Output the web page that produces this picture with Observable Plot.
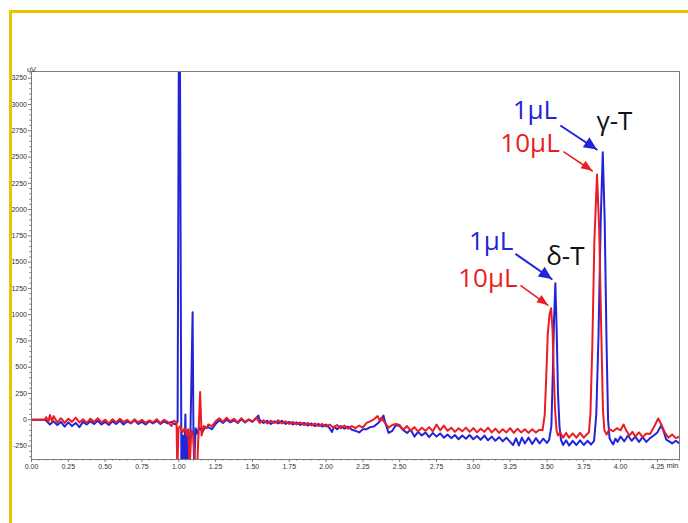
<!DOCTYPE html>
<html>
<head>
<meta charset="utf-8">
<script src="https://cdn.jsdelivr.net/npm/d3@7"></script>
<script src="https://cdn.jsdelivr.net/npm/@observablehq/plot@0.6"></script>
<style>
  html, body { margin: 0; padding: 0; background: #fff; }
  #wrap { position: relative; width: 688px; height: 523px; overflow: hidden; }
  #border { position: absolute; left: 9px; top: 10px; width: 720px; height: 600px;
            border-top: 3.5px solid #e9c400; border-left: 3.5px solid #e9c400; pointer-events: none; }
</style>
</head>
<body>
<div id="wrap"><div id="chart"></div><div id="border"></div></div>
<script>
// ---- data (time in min, signal in uV) ----
const blueTrace = [
  [0,0],[0.05,0],[0.09,0],
  [0.100,-10],[0.125,-45],[0.150,-15],[0.175,-50],[0.200,-20],[0.225,-65],[0.250,-25],[0.275,-60],
  [0.300,-30],[0.325,-70],[0.350,-20],[0.375,-45],[0.400,-15],[0.425,-40],[0.450,-10],[0.475,-45],
  [0.500,-20],[0.525,-50],[0.550,-15],[0.575,-40],[0.600,-10],[0.625,-45],[0.650,-15],[0.675,-35],
  [0.700,-5],[0.725,-40],[0.750,-20],[0.775,-45],[0.800,-15],[0.825,-35],[0.850,-10],[0.875,-40],
  [0.900,-15],[0.925,-35],[0.950,-20],[0.975,-45],
  [0.992,-20],[1.004,5000],[1.018,-500],[1.028,-150],[1.035,-500],[1.045,50],[1.052,-500],[1.062,-100],
  [1.070,-450],[1.080,-60],[1.094,1024],[1.100,-200],[1.105,-420],[1.115,-80],[1.125,-130],[1.140,-70],
  [1.160,-115],[1.175,-80],
  [1.200,-70],[1.225,-90],[1.250,-40],[1.275,-5],[1.300,-30],[1.325,0],[1.350,-25],[1.375,-5],
  [1.400,-30],[1.425,5],[1.450,-25],[1.475,0],[1.500,-20],[1.525,15],[1.540,40],[1.550,-5],
  [1.575,-30],[1.600,-10],[1.625,-40],[1.650,-15],[1.675,-35],[1.700,-10],[1.725,-40],[1.750,-20],
  [1.775,-45],[1.800,-25],[1.825,-50],[1.850,-30],[1.875,-55],[1.900,-35],[1.925,-60],[1.950,-40],
  [1.975,-65],[2.000,-45],[2.025,-80],[2.040,-115],[2.055,-65],[2.075,-90],[2.100,-60],[2.125,-85],
  [2.150,-65],[2.175,-95],[2.200,-105],[2.225,-120],[2.250,-90],[2.275,-90],[2.300,-70],[2.325,-65],
  [2.350,-35],[2.375,0],[2.390,40],[2.400,-20],[2.425,-125],[2.450,-105],[2.475,-50],[2.500,-60],
  [2.525,-100],[2.550,-125],[2.575,-95],[2.600,-160],[2.625,-115],[2.650,-150],[2.675,-120],[2.700,-165],
  [2.725,-125],[2.750,-160],[2.775,-130],[2.800,-170],[2.825,-140],[2.850,-175],[2.875,-145],[2.900,-185],
  [2.925,-150],[2.950,-180],[2.975,-145],[3.000,-185],[3.025,-155],[3.050,-190],[3.075,-150],[3.100,-195],
  [3.125,-160],[3.150,-200],[3.175,-165],[3.200,-205],[3.225,-170],[3.250,-210],[3.270,-240],[3.290,-175],
  [3.310,-245],[3.330,-170],[3.350,-225],[3.375,-170],[3.400,-230],[3.425,-175],[3.450,-225],[3.475,-180],
  [3.500,-220],[3.515,-190],[3.530,-60],[3.540,450],[3.548,950],[3.557,1300],[3.566,850],[3.575,250],
  [3.585,-60],[3.595,-190],[3.610,-240],[3.630,-195],[3.650,-245],[3.675,-200],[3.700,-240],[3.725,-195],
  [3.750,-240],[3.775,-200],[3.800,-235],[3.820,-200],[3.835,50],[3.850,800],[3.865,1900],[3.879,2546],
  [3.892,1900],[3.905,700],[3.915,0],[3.925,-175],[3.940,-215],[3.950,-235],[3.965,-180],[3.980,-210],
  [4.000,-160],[4.025,-205],[4.050,-150],[4.075,-200],[4.100,-160],[4.125,-210],[4.150,-165],[4.175,-210],
  [4.200,-175],[4.225,-150],[4.250,-120],[4.275,-55],[4.290,-100],[4.310,-190],[4.330,-205],[4.350,-225],
  [4.375,-200],[4.400,-225]
];

const redTrace = [
  [0,0],[0.05,0],[0.09,0],
  [0.100,25],[0.115,-20],[0.125,45],[0.140,-15],[0.150,35],[0.175,-25],[0.200,15],[0.225,-30],
  [0.250,10],[0.275,-20],[0.300,20],[0.325,-25],[0.350,5],[0.375,-30],[0.400,10],[0.425,-20],
  [0.450,15],[0.475,-25],[0.500,0],[0.525,-35],[0.550,5],[0.575,-25],[0.600,10],[0.625,-20],
  [0.650,0],[0.675,-30],[0.700,5],[0.725,-25],[0.750,0],[0.775,-30],[0.800,-5],[0.825,-25],
  [0.850,5],[0.875,-30],[0.900,0],[0.925,-20],[0.950,-60],[0.965,-10],[0.985,-20],
  [0.990,-500],[0.998,-80],[1.010,-60],[1.025,-120],[1.040,-80],[1.055,-150],[1.065,-90],[1.073,-500],
  [1.085,-100],[1.100,-160],[1.112,-500],[1.125,-450],[1.135,-100],[1.145,265],[1.155,-150],[1.170,-60],
  [1.190,-80],
  [1.200,-45],[1.225,-60],[1.250,-15],[1.275,15],[1.300,-20],[1.325,20],[1.350,-15],[1.375,10],
  [1.400,-25],[1.425,15],[1.450,-20],[1.475,5],[1.500,-15],[1.525,20],[1.550,-30],[1.575,-5],
  [1.600,-35],[1.625,-10],[1.650,-30],[1.675,-5],[1.700,-35],[1.725,-15],[1.750,-40],[1.775,-20],
  [1.800,-45],[1.825,-25],[1.850,-50],[1.875,-30],[1.900,-55],[1.925,-35],[1.950,-60],[1.975,-40],
  [2.000,-65],[2.025,-45],[2.050,-75],[2.075,-50],[2.100,-80],[2.125,-55],[2.150,-85],[2.175,-60],
  [2.200,-80],[2.225,-55],[2.250,-75],[2.275,-30],[2.300,-15],[2.325,5],[2.350,35],[2.365,-10],
  [2.375,20],[2.400,-30],[2.425,-75],[2.450,-50],[2.475,-40],[2.500,-50],[2.525,-95],[2.550,-60],
  [2.575,-105],[2.600,-70],[2.625,-110],[2.650,-75],[2.675,-105],[2.700,-70],[2.725,-110],[2.750,-45],
  [2.775,-100],[2.800,-55],[2.825,-105],[2.850,-75],[2.875,-115],[2.900,-80],[2.925,-110],[2.950,-75],
  [2.975,-115],[3.000,-80],[3.025,-120],[3.050,-85],[3.075,-115],[3.100,-75],[3.125,-120],[3.150,-85],
  [3.175,-125],[3.200,-90],[3.225,-120],[3.250,-80],[3.275,-125],[3.300,-85],[3.325,-120],[3.350,-90],
  [3.375,-125],[3.400,-90],[3.425,-120],[3.450,-95],[3.470,-100],[3.485,50],[3.495,400],[3.505,800],
  [3.517,1000],[3.528,1062],[3.538,850],[3.546,450],[3.555,100],[3.565,-100],[3.575,-150],[3.590,-120],
  [3.610,-170],[3.630,-125],[3.650,-170],[3.675,-130],[3.700,-170],[3.725,-125],[3.750,-170],[3.770,-140],
  [3.785,-120],[3.795,50],[3.808,700],[3.822,1700],[3.840,2333],[3.855,1800],[3.868,900],[3.880,100],
  [3.890,-100],[3.905,-140],[3.925,-90],[3.950,-110],[3.975,-80],[4.000,-100],[4.020,-45],[4.040,-105],
  [4.060,-150],[4.080,-115],[4.100,-160],[4.125,-120],[4.150,-165],[4.175,-130],[4.200,-135],[4.230,-60],
  [4.255,12],[4.275,-40],[4.300,-120],[4.325,-170],[4.350,-140],[4.375,-175],[4.400,-160]
];

const xTicks = [0,0.25,0.5,0.75,1,1.25,1.5,1.75,2,2.25,2.5,2.75,3,3.25,3.5,3.75,4,4.25];
const yTicks = [-250,0,250,500,750,1000,1250,1500,1750,2000,2250,2500,2750,3000,3250];
const xDomain = [0, 4.40];
const yDomain = [-378, 3314];

// annotations: label, time, signal, series
const labelText  = ["1µL", "10µL", "γ-T", "1µL", "δ-T", "10µL"];
const labelTime  = [3.418, 3.385, 3.958, 3.121, 3.625, 3.099];
const labelValue = [2942, 2628, 2838, 1690, 1554, 1341];
const labelKind  = ["1µL", "10µL", "peak", "1µL", "peak", "10µL"];

// arrows: start (time, signal) -> tip (time, signal)
const arrowX1 = [3.591, 3.612, 3.286, 3.320];
const arrowY1 = [2800, 2552, 1579, 1278];
const arrowX2 = [3.843, 3.811, 3.537, 3.510];
const arrowY2 = [2567, 2365, 1335, 1087];
const arrowKind = ["1µL", "10µL", "1µL", "10µL"];

// ---- build ----
const BLUE = "#2323d8", RED = "#ea1c24";
const kindColor = {"1µL": BLUE, "10µL": RED, "peak": "#111"};

const blue = blueTrace.map(([t, v]) => ({t, v}));
const red = redTrace.map(([t, v]) => ({t, v}));
const labels = labelText.map((s, i) => ({s, t: labelTime[i], v: labelValue[i], k: labelKind[i]}));
const arrows = arrowX1.map((x1, i) => ({x1, y1: arrowY1[i], x2: arrowX2[i], y2: arrowY2[i], k: arrowKind[i]}));

const xMinor = d3.range(0, 4.401, 0.05).filter(d => !xTicks.some(t => Math.abs(t - d) < 1e-6));
const yMinor = d3.range(-350, 3301, 50).filter(d => !yTicks.includes(d));

const plot = Plot.plot({
  width: 688,
  height: 523,
  marginTop: 71,
  marginRight: 9,
  marginBottom: 64,
  marginLeft: 31,
  style: {fontFamily: "'Liberation Sans', Arial, sans-serif", fontSize: "7px", background: "white", color: "#333"},
  x: {domain: xDomain, label: null},
  y: {domain: yDomain, label: null},
  marks: [
    Plot.axisX({ticks: xTicks, tickFormat: d3.format(".2f"), tickSize: 3, tickPadding: 1.5, stroke: "#777", fill: "#333", label: null}),
    Plot.axisX({ticks: xMinor, tickFormat: () => "", tickSize: 1.6, stroke: "#777", label: null}),
    Plot.axisY({ticks: yTicks, tickFormat: d => String(d), tickSize: 3, tickPadding: 1.5, stroke: "#777", fill: "#333", label: null}),
    Plot.axisY({ticks: yMinor, tickFormat: () => "", tickSize: 1.6, stroke: "#777", label: null}),
    Plot.line(blue, {x: "t", y: "v", stroke: BLUE, strokeWidth: 2, clip: true}),
    Plot.line(red, {x: "t", y: "v", stroke: RED, strokeWidth: 2, clip: true}),
    Plot.frame({stroke: "#7a7a7a", strokeWidth: 1}),
    Plot.link(arrows, {x1: "x1", y1: "y1", x2: "x2", y2: "y2", stroke: d => kindColor[d.k], strokeWidth: d => d.k === "1µL" ? 2 : 1.6}),
    Plot.text(labels, {x: "t", y: "v", text: "s", fill: d => kindColor[d.k], fontSize: 26, fontFamily: "'Open Sans', 'Liberation Sans', sans-serif"}),
    Plot.text(["uV"], {frameAnchor: "top-left", dy: -5, textAnchor: "middle", fill: "#333", fontSize: 7.5}),
    Plot.text(["min"], {frameAnchor: "bottom-right", dx: -7, dy: 8, textAnchor: "middle", fill: "#333", fontSize: 7.5})
  ]
});

// filled arrowheads, positioned through Plot's own scales
const sx = plot.scale("x"), sy = plot.scale("y");
const svg = d3.select(plot);
arrows.forEach(a => {
  const p0 = [sx.apply(a.x1), sy.apply(a.y1)];
  const p1 = [sx.apply(a.x2), sy.apply(a.y2)];
  const dx = p1[0] - p0[0], dy = p1[1] - p0[1];
  const L = Math.hypot(dx, dy), ux = dx / L, uy = dy / L;
  const len = a.k === "1µL" ? 13 : 11, half = a.k === "1µL" ? 6 : 4.5;
  const bx = p1[0] - ux * len, by = p1[1] - uy * len;
  const pts = [[p1[0], p1[1]], [bx - uy * half, by + ux * half], [bx + uy * half, by - ux * half]];
  svg.append("polygon").attr("points", pts.map(p => p.join(",")).join(" ")).attr("fill", kindColor[a.k]);
});

document.getElementById("chart").appendChild(plot);
</script>
</body>
</html>
